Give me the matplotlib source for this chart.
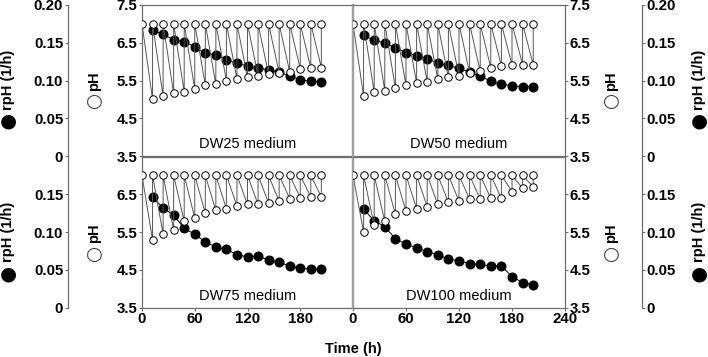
import matplotlib
matplotlib.use("Agg")
import matplotlib.pyplot as plt
import numpy as np

plt.rcParams['font.family'] = ['Liberation Sans', 'DejaVu Sans']

# ---------------- data ----------------
time_h = [0, 12, 24, 36, 48, 60, 72, 84, 96, 108, 120, 132, 144, 156, 168, 180, 192, 204]
ph_start = 7.0

panels = ["DW25 medium", "DW50 medium", "DW75 medium", "DW100 medium"]

# pH reached at the end of each 12 h cycle (before reset to 7.0), times 12..204
ph_low_dw25 = [5.00, 5.08, 5.16, 5.20, 5.28, 5.39, 5.40, 5.50, 5.54, 5.58, 5.62, 5.66, 5.70, 5.73, 5.81, 5.83, 5.84]
ph_low_dw50 = [5.09, 5.19, 5.23, 5.30, 5.37, 5.43, 5.46, 5.54, 5.58, 5.62, 5.70, 5.74, 5.83, 5.89, 5.91, 5.92, 5.92]
ph_low_dw75 = [5.29, 5.45, 5.55, 5.78, 5.87, 6.00, 6.07, 6.11, 6.19, 6.23, 6.23, 6.27, 6.31, 6.38, 6.41, 6.43, 6.43]
ph_low_dw100 = [5.50, 5.68, 5.78, 5.97, 6.05, 6.12, 6.17, 6.23, 6.29, 6.32, 6.37, 6.37, 6.39, 6.39, 6.57, 6.66, 6.70]

# rpH (1/h), times 12..204
rph_dw25 = [0.167, 0.161, 0.154, 0.151, 0.145, 0.136, 0.134, 0.127, 0.123, 0.119, 0.116, 0.114, 0.111, 0.106, 0.101, 0.099, 0.098]
rph_dw50 = [0.160, 0.153, 0.150, 0.143, 0.137, 0.133, 0.129, 0.123, 0.120, 0.116, 0.111, 0.106, 0.099, 0.095, 0.093, 0.092, 0.092]
rph_dw75 = [0.146, 0.132, 0.122, 0.105, 0.097, 0.087, 0.080, 0.077, 0.070, 0.067, 0.068, 0.063, 0.060, 0.055, 0.052, 0.051, 0.051]
rph_dw100 = [0.130, 0.115, 0.107, 0.091, 0.084, 0.079, 0.074, 0.070, 0.064, 0.062, 0.058, 0.057, 0.055, 0.055, 0.041, 0.033, 0.030]

ph_lows = [ph_low_dw25, ph_low_dw50, ph_low_dw75, ph_low_dw100]
rphs = [rph_dw25, rph_dw50, rph_dw75, rph_dw100]

x_ticks = [0, 60, 120, 180, 240]
ph_ticks_top = [3.5, 4.5, 5.5, 6.5, 7.5]
ph_ticks_bottom = [3.5, 4.5, 5.5, 6.5]
rph_ticks_top = [0, 0.05, 0.10, 0.15, 0.20]
rph_ticks_bottom = [0, 0.05, 0.10, 0.15]
rph_ticklabels_top = ["0", "0.05", "0.10", "0.15", "0.20"]
rph_ticklabels_bottom = ["0", "0.05", "0.10", "0.15"]

# ---------------- figure ----------------
W, H = 708, 357
fig = plt.figure(figsize=(W / 100, H / 100), dpi=100)

def box(x0, y0, x1, y1):
    return [x0 / W, 1 - y1 / H, (x1 - x0) / W, (y1 - y0) / H]

x_left = (142, 353)
x_right = (353, 565)
y_top = (5, 156)
y_bot = (156.5, 307.5)

SP = '#6e6e6e'
TL = dict(fontsize=10.8, fontweight='bold')

positions = [(x_left, y_top), (x_right, y_top), (x_left, y_bot), (x_right, y_bot)]

for i, ((xs, ys), name) in enumerate(zip(positions, panels)):
    ax = fig.add_axes(box(xs[0], ys[0], xs[1], ys[1]))
    ax2 = ax.twinx()
    ax.set_zorder(ax2.get_zorder() + 1)
    ax.patch.set_visible(False)

    # sawtooth pH
    lows = ph_lows[i]
    sx, sy = [], []
    for k in range(1, len(time_h)):
        sx += [time_h[k - 1], time_h[k], time_h[k]]
        sy += [ph_start, lows[k - 1], ph_start]
    ax.plot(sx, sy, color='#555555', lw=0.7, zorder=2)
    ax.plot(time_h, [ph_start] * len(time_h), ls='none', marker='o', ms=5.4,
            mfc='white', mec='black', mew=0.7, zorder=4)
    ax.plot(time_h[1:], lows, ls='none', marker='o', ms=5.4,
            mfc='white', mec='black', mew=0.7, zorder=4)

    # rpH
    ax2.plot(time_h[1:], rphs[i], color='black', lw=0.7, marker='o', ms=6.2,
             mfc='black', mec='black')
    ax2.set_ylim(0, 0.2)
    ax2.set_yticks([])
    for s in ax2.spines.values():
        s.set_visible(False)

    ax.set_xlim(0, 240)
    ax.set_ylim(3.5, 7.5)
    ax.text(120, 3.62, name, ha='center', va='bottom', fontsize=10.5)

    for s in ax.spines.values():
        s.set_color(SP)
        s.set_linewidth(0.9)
    ax.tick_params(colors='black', length=2.5, width=0.8, pad=1)

    top = i < 2
    left = i % 2 == 0
    if top:
        ax.set_xticks([])
    else:
        xt = x_ticks if not left else x_ticks[:-1]
        ax.set_xticks(xt)
        ax.set_xticklabels([str(v) for v in xt], **TL)
        ax.tick_params(axis='x', colors=SP, labelcolor='black')
    yt = ph_ticks_top if top else ph_ticks_bottom
    if left:
        ax.yaxis.tick_left()
        ax.spines['right'].set_color('#a0a0a0')
        ax.spines['right'].set_linewidth(1.6)
    else:
        ax.yaxis.tick_right()
        ax.spines['left'].set_color('#a0a0a0')
        ax.spines['left'].set_linewidth(1.6)
    ax.set_yticks(yt)
    ax.set_yticklabels([f"{v:.1f}" for v in yt], **TL)
    ax.tick_params(axis='y', colors=SP, labelcolor='black')

# separate rpH axes (spine only)
for side, xpix in (("left", 68), ("right", 641)):
    for top, ys in ((True, y_top), (False, y_bot)):
        a = fig.add_axes(box(xpix, ys[0], xpix + 1, ys[1]))
        a.patch.set_visible(False)
        a.set_ylim(0, 0.2)
        a.set_xticks([])
        for s in a.spines.values():
            s.set_visible(False)
        a.spines[side].set_visible(True)
        a.spines[side].set_color(SP)
        a.spines[side].set_linewidth(0.9)
        ticks = rph_ticks_top if top else rph_ticks_bottom
        labs = rph_ticklabels_top if top else rph_ticklabels_bottom
        if side == "right":
            a.yaxis.tick_right()
        else:
            a.yaxis.tick_left()
        a.set_yticks(ticks)
        a.set_yticklabels(labs, **TL)
        a.tick_params(axis='y', colors=SP, labelcolor='black', length=2.5, width=0.8, pad=1)

# axis title labels with marker symbols
def label(xpix, ytext_center, ycirc, text, filled):
    fig.text(xpix / W, 1 - ytext_center / H, text, rotation=90, ha='center', va='center',
             fontsize=10.5, fontweight='bold')
    fig.text(xpix / W, 1 - ycirc / H, "●" if filled else "○", ha='center', va='center',
             fontsize=14, color='black' if filled else '#444444', family=['DejaVu Sans'])

for yc, cc in ((80, 121), (232, 274)):
    label(8, yc, cc, "rpH (1/h)", True)
    label(699, yc, cc, "rpH (1/h)", True)
for yc, cc in ((81, 101), (233, 254)):
    label(94, yc, cc, "pH", False)
    label(611, yc, cc, "pH", False)

fig.text(353 / W, 1 - 349 / H, "Time (h)", ha='center', va='center', fontsize=10.5, fontweight='bold')

fig.savefig("out.png", dpi=100)
